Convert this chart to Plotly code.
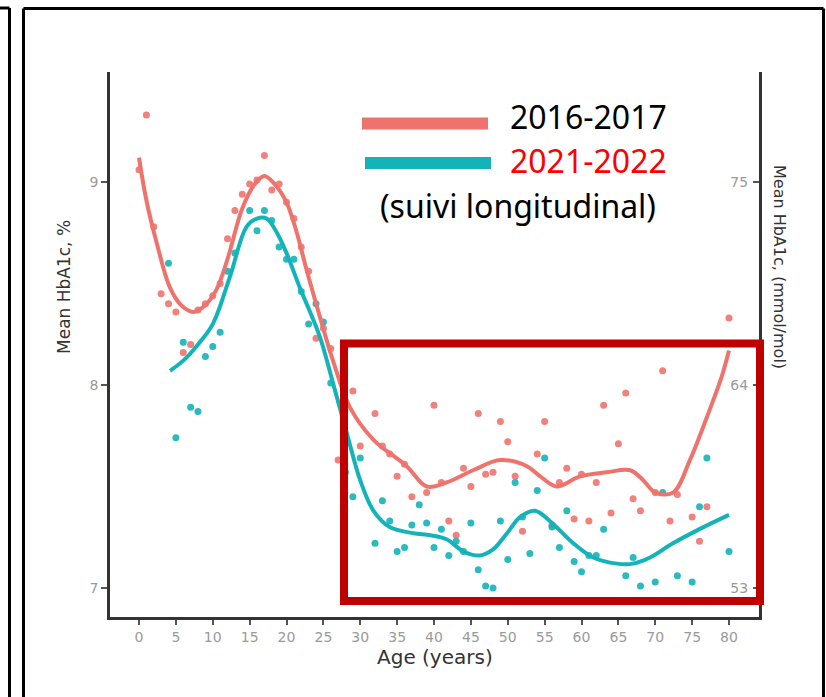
import plotly.graph_objects as go

W, H = 826, 697

# ---- data ----
red_age = [0, 1, 2, 3, 4, 5, 6, 7, 8, 9, 10, 11, 12, 13, 14, 15, 16, 17, 18, 19, 20,
           21, 22, 23, 24, 25, 26, 27, 29, 30, 32, 33, 34, 35, 36, 37, 39, 40, 41, 42,
           43, 44, 45, 46, 47, 48, 49, 50, 51, 52, 54, 55, 56, 57, 58, 59, 60, 61, 62,
           63, 64, 65, 66, 67, 68, 70, 71, 72, 73, 75, 76, 77, 80]
red_val = [9.06, 9.33, 8.78, 8.45, 8.40, 8.36, 8.16, 8.20, 8.37, 8.40, 8.44, 8.50, 8.72,
           8.86, 8.94, 8.99, 9.01, 9.13, 8.96, 8.99, 8.90, 8.82, 8.68, 8.56, 8.23, 8.28,
           8.18, 7.63, 7.97, 7.70, 7.86, 7.70, 7.66, 7.55, 7.61, 7.45, 7.47, 7.90, 7.52,
           7.33, 7.26, 7.59, 7.50, 7.86, 7.56, 7.57, 7.82, 7.72, 7.55, 7.28, 7.66, 7.82,
           7.31, 7.52, 7.59, 7.34, 7.56, 7.33, 7.52, 7.90, 7.37, 7.71, 7.96, 7.44, 7.38,
           7.47, 8.07, 7.33, 7.46, 7.35, 7.23, 7.40, 8.33]

teal_age = [4, 5, 6, 7, 8, 9, 10, 11, 12, 13, 15, 16, 17, 18, 19, 20, 21, 22, 23, 24, 25,
            26, 28, 29, 30, 32, 33, 34, 35, 36, 37, 38, 39, 40, 41, 42, 43, 44, 45, 46,
            47, 48, 49, 50, 51, 52, 53, 54, 55, 56, 57, 58, 59, 60, 61, 62, 63, 66, 67,
            68, 70, 71, 73, 75, 76, 77, 80]
teal_val = [8.60, 7.74, 8.21, 7.89, 7.87, 8.14, 8.19, 8.26, 8.56, 8.65, 8.86, 8.76, 8.86,
            8.81, 8.68, 8.62, 8.62, 8.46, 8.30, 8.40, 8.31, 8.01, 7.57, 7.45, 7.64, 7.22,
            7.43, 7.33, 7.18, 7.20, 7.31, 7.41, 7.32, 7.20, 7.29, 7.16, 7.23, 7.18, 7.32,
            7.09, 7.01, 7.00, 7.33, 7.14, 7.52, 7.35, 7.17, 7.48, 7.64, 7.30, 7.20, 7.38,
            7.13, 7.08, 7.16, 7.16, 7.29, 7.06, 7.15, 7.01, 7.03, 7.47, 7.06, 7.03, 7.40,
            7.64, 7.18]

red_fit_age = [0, 1, 2.4, 4.2, 5.8, 7.4, 8.9, 10.5, 12, 14, 15.7, 17, 18.4, 20, 21.4, 22.7,
               24.1, 26.3, 28.6, 31.8, 36.3, 39, 41.7, 45.3, 49, 52.6, 54.4, 56.6, 59.8,
               63.4, 66.6, 68.4, 70, 72.4, 74.7, 77.4, 79, 80]
red_fit_val = [9.12, 8.91, 8.70, 8.48, 8.39, 8.36, 8.39, 8.47, 8.62, 8.87, 8.99, 9.03, 8.99,
               8.90, 8.75, 8.57, 8.39, 8.12, 7.89, 7.73, 7.60, 7.50, 7.52, 7.58, 7.63, 7.60,
               7.55, 7.50, 7.55, 7.57, 7.58, 7.53, 7.47, 7.47, 7.63, 7.88, 8.04, 8.17]

teal_fit_age = [4.2, 6, 8, 10, 12.3, 14.6, 16, 17.3, 18.7, 20, 21.8, 24.5, 26.3, 28.2, 30,
                31.8, 34, 37.2, 39.5, 41.7, 44, 46.2, 48, 49.9, 51.7, 53.7, 55.7, 58.9,
                61.6, 64.8, 67, 69.3, 72.4, 76, 80]
teal_fit_val = [8.07, 8.12, 8.20, 8.30, 8.53, 8.78, 8.82, 8.82, 8.75, 8.65, 8.48, 8.24, 8.01,
                7.76, 7.53, 7.38, 7.30, 7.27, 7.26, 7.24, 7.18, 7.16, 7.19, 7.27, 7.35, 7.38,
                7.33, 7.22, 7.15, 7.12, 7.12, 7.15, 7.22, 7.29, 7.36]

x_ticks = list(range(0, 81, 5))
y_ticks = [7, 8, 9]
y2_labels = ["53", "64", "75"]
legend_labels = ["2016-2017", "2021-2022", "(suivi longitudinal)"]

RED = "#EE736D"
TEAL = "#14B3B9"


def px(x):
    return x / W


def py(y):
    return 1 - y / H


fig = go.Figure()
fig.add_trace(go.Scatter(x=red_age, y=red_val, mode="markers",
                         marker=dict(color=RED, size=7, opacity=0.9), showlegend=False))
fig.add_trace(go.Scatter(x=teal_age, y=teal_val, mode="markers",
                         marker=dict(color=TEAL, size=7, opacity=0.9), showlegend=False))
fig.add_trace(go.Scatter(x=red_fit_age, y=red_fit_val, mode="lines",
                         line=dict(color=RED, width=4, shape="spline", smoothing=1.0),
                         showlegend=False))
fig.add_trace(go.Scatter(x=teal_fit_age, y=teal_fit_val, mode="lines",
                         line=dict(color=TEAL, width=4, shape="spline", smoothing=1.0),
                         showlegend=False))
# invisible trace to enable the secondary axis
fig.add_trace(go.Scatter(x=[None], y=[None], yaxis="y2", showlegend=False, hoverinfo="skip"))

x0p, x1p = 110, 759
y0p, y1p = 72, 617
xr = [(x0p - 139) / 7.375, (x1p - 139) / 7.375]
yr = [9 - (y1p - 182) / 203, 9 - (y0p - 182) / 203]

axis_font = dict(family="DejaVu Sans", size=14, color="#9a9a9a")

fig.update_layout(
    width=W, height=H,
    margin=dict(l=0, r=0, t=0, b=0),
    paper_bgcolor="white", plot_bgcolor="white",
    xaxis=dict(domain=[px(x0p), px(x1p)], range=xr, tickvals=x_ticks,
               showgrid=False, zeroline=False, showline=True, linecolor="#333333",
               linewidth=2.5, ticks="outside", ticklen=5, tickwidth=1.5,
               tickcolor="#555555", tickfont=axis_font),
    yaxis=dict(domain=[py(y1p), py(y0p)], range=yr, tickvals=y_ticks,
               showgrid=False, zeroline=False, showline=True, linecolor="#333333",
               linewidth=2.5, ticks="outside", ticklen=6, tickwidth=1.5,
               tickcolor="#555555", tickfont=axis_font),
    yaxis2=dict(overlaying="y", side="right", range=yr, tickvals=y_ticks,
                ticktext=y2_labels, showgrid=False, zeroline=False, showline=True,
                linecolor="#333333", linewidth=2.5, ticks="inside", ticklen=6,
                tickwidth=1.5, tickcolor="#555555", ticklabelposition="inside",
                ticklabelstandoff=5, tickfont=axis_font),
)

shapes = []
# outer frames
shapes.append(dict(type="line", xref="paper", yref="paper", x0=px(23.5), x1=px(23.5),
                   y0=py(8.5), y1=py(720), line=dict(color="black", width=3)))
shapes.append(dict(type="line", xref="paper", yref="paper", x0=px(23.5), x1=px(823.5),
                   y0=py(8.5), y1=py(8.5), line=dict(color="black", width=3)))
shapes.append(dict(type="line", xref="paper", yref="paper", x0=px(823.5), x1=px(823.5),
                   y0=py(8.5), y1=py(720), line=dict(color="black", width=3)))
shapes.append(dict(type="line", xref="paper", yref="paper", x0=px(9.5), x1=px(9.5),
                   y0=py(8), y1=py(720), line=dict(color="black", width=3)))
shapes.append(dict(type="line", xref="paper", yref="paper", x0=px(-5), x1=px(9.5),
                   y0=py(8), y1=py(8), line=dict(color="black", width=3)))
# legend swatches
shapes.append(dict(type="line", xref="paper", yref="paper", x0=px(362), x1=px(488),
                   y0=py(123.5), y1=py(123.5), line=dict(color=RED, width=12)))
shapes.append(dict(type="line", xref="paper", yref="paper", x0=px(365), x1=px(491),
                   y0=py(163), y1=py(163), line=dict(color=TEAL, width=12)))
# highlight box
shapes.append(dict(type="rect", xref="paper", yref="paper", x0=px(344), x1=px(760),
                   y0=py(601), y1=py(343.5), line=dict(color="#C00000", width=8),
                   fillcolor="rgba(0,0,0,0)"))
fig.update_layout(shapes=shapes)

ann = []
lg_font = "Noto Sans"
ann.append(dict(x=px(508), y=py(117), xref="paper", yref="paper", text=legend_labels[0],
                showarrow=False, xanchor="left", yanchor="middle",
                font=dict(family=lg_font, size=32, color="black")))
ann.append(dict(x=px(508), y=py(161), xref="paper", yref="paper", text=legend_labels[1],
                showarrow=False, xanchor="left", yanchor="middle",
                font=dict(family=lg_font, size=32, color="#FF0000")))
ann.append(dict(x=px(518), y=py(205), xref="paper", yref="paper", text=legend_labels[2],
                showarrow=False, xanchor="center", yanchor="middle",
                font=dict(family=lg_font, size=32, color="black")))
ann.append(dict(x=px(435), y=py(657), xref="paper", yref="paper", text="Age (years)",
                showarrow=False, xanchor="center", yanchor="middle",
                font=dict(family="DejaVu Sans", size=20, color="#333333")))
ann.append(dict(x=px(64), y=py(287), xref="paper", yref="paper", text="Mean HbA1c, %",
                showarrow=False, xanchor="center", yanchor="middle", textangle=-90,
                font=dict(family="DejaVu Sans", size=17, color="#333333")))
ann.append(dict(x=px(780), y=py(267), xref="paper", yref="paper",
                text="Mean HbA1c, (mmol/mol)", showarrow=False, xanchor="center",
                yanchor="middle", textangle=90,
                font=dict(family="DejaVu Sans", size=16, color="#333333")))
fig.update_layout(annotations=ann)

fig.write_html("out.html", config={"displayModeBar": False},
               post_script="document.body.style.margin='0';document.body.style.overflow='hidden';")
